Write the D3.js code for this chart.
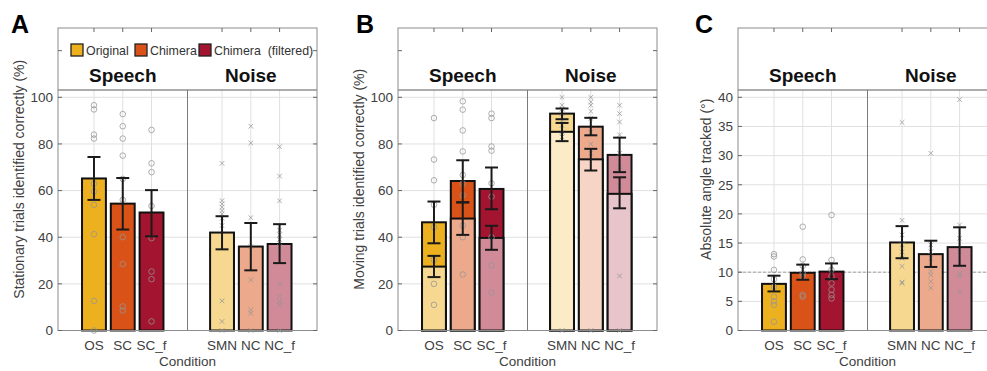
<!DOCTYPE html>
<html>
<head>
<meta charset="utf-8">
<script src="https://cdn.jsdelivr.net/npm/d3@7"></script>
<style>
  body { margin: 0; background: #fff; }
  svg { display: block; font-family: "Liberation Sans", Arial, sans-serif; }
</style>
</head>
<body>
<div id="chart"></div>
<script>
// conditions and groups
var conditions = ["OS", "SC", "SC_f", "SMN", "NC", "NC_f"];
var groups = ["Speech", "Noise"];
var legendLabels = ["Original", "Chimera", "Chimera  (filtered)"];
var panelLetters = ["A", "B", "C"];
var yLabels = ["Stationary trials identified correctly (%)",
               "Moving trials identified correctly (%)",
               "Absolute angle tracked (\u00b0)"];

// A: stationary
var statMean = [65.2, 54.4, 50.6, 42.0, 36.0, 37.1];
var statLo   = [56.0, 43.3, 40.4, 34.8, 25.8, 28.9];
var statHi   = [74.4, 65.4, 60.2, 49.0, 46.1, 45.6];
var statPts = [
    [96.6, 94.8, 84.0, 82.3, 63.0, 59.6, 53.9, 41.3, 12.7, 0],
    [92.8, 87.6, 82.3, 75.0, 65.0, 56.0, 40.0, 28.5, 10.3, 8.6],
    [86.0, 71.7, 67.9, 53.4, 39.6, 25.3, 22.0, 3.9],
    [71.7, 55.7, 54.3, 52.9, 51.4, 50.0, 48.1, 45.0, 12.7, 3.9, 0],
    [87.6, 80.4, 48.4, 36.0, 21.7, 8.9, 7.4, 0],
    [78.8, 66.2, 55.6, 43.0, 41.0, 39.0, 36.0, 20.0, 14.6, 12.4, 11.0, 0]
];

// B: moving (outer = all, inner = lower portion)
var moveMean = [46.4, 64.1, 60.7, 93.0, 87.4, 75.3];
var moveLo   = [37.4, 54.9, 52.0, 90.6, 83.7, 67.9];
var moveHi   = [55.3, 73.0, 69.9, 95.2, 91.2, 82.7];
var moveInMean = [27.4, 48.0, 39.7, 85.2, 73.4, 58.6];
var moveInLo   = [22.9, 41.0, 34.6, 81.2, 68.6, 52.4];
var moveInHi   = [32.0, 55.0, 44.9, 89.0, 77.9, 65.7];
var movePts = [
    [91.1, 73.3, 64.4, 53.9, 44.3, 30.3, 20.0, 11.0],
    [98.3, 94.7, 85.8, 76.8, 66.7, 63.0, 58.0, 45.0, 40.0, 24.0],
    [93.0, 91.1, 78.9, 77.1, 63.1, 57.4, 40.0, 28.0, 16.3],
    [100, 96.6, 95.0, 93.0, 90.0, 88.0, 85.0, 83.0, 0],
    [100, 98.0, 96.6, 94.0, 91.0, 85.0, 80.0, 76.0, 0],
    [96.6, 93.0, 89.4, 83.9, 76.0, 70.0, 62.0, 23.4, 0]
];

// C: absolute angle
var angMean = [8.0, 9.9, 10.1, 15.1, 13.1, 14.3];
var angLo   = [6.7, 8.7, 8.8, 12.4, 10.9, 11.1];
var angHi   = [9.4, 11.3, 11.5, 17.9, 15.4, 17.7];
var angPts = [
    [13.1, 12.7, 10.4, 8.8, 7.5, 5.8, 5.0, 4.4, 1.5],
    [17.8, 12.2, 11.1, 9.8, 9.3, 6.1, 5.8],
    [19.8, 12.1, 10.4, 9.3, 8.1, 7.0, 6.1, 5.5],
    [35.7, 18.9, 16.4, 14.7, 13.5, 12.4, 11.0, 8.3, 8.1],
    [30.4, 14.7, 13.5, 12.4, 10.1, 9.5, 8.4, 7.3],
    [39.6, 18.1, 15.8, 13.5, 11.5, 9.8, 9.3, 6.7]
];

var pctTicks = [0, 20, 40, 60, 80, 100];
var angTicks = [0, 5, 10, 15, 20, 25, 30, 35, 40];

// colours
var baseColors  = ["#EDB120", "#D95319", "#A2142F"];
function tint(c, k) { return d3.interpolateRgb("#ffffff", c)(k); }

var W = 987, H = 371;
var svg = d3.select("#chart").append("svg").attr("width", W).attr("height", H);

var xPos = [1.25, 2.25, 3.25, 5.7, 6.7, 7.7], xDivider = 4.5, barW = 0.83;
var axTop = 28, headerY = 90, axBottom = 330.5, y100 = 97.3, panelW = 259;

function drawPanel(p) {
    var g = svg.append("g");
    var x = d3.scaleLinear().domain([0, 9]).range([p.left, p.left + panelW]);
    var y = d3.scaleLinear().domain([0, p.ticks[p.ticks.length - 1]]).range([axBottom, y100]);
    var right = p.left + panelW;

    // grid
    g.selectAll(".hg").data(p.ticks).enter().append("line")
        .attr("x1", p.left).attr("x2", right)
        .attr("y1", function (d) { return y(d); }).attr("y2", function (d) { return y(d); })
        .attr("stroke", "#e0e0e0").attr("stroke-width", 1);
    g.selectAll(".vg").data(xPos).enter().append("line")
        .attr("x1", function (d) { return x(d); }).attr("x2", function (d) { return x(d); })
        .attr("y1", headerY).attr("y2", axBottom)
        .attr("stroke", "#e0e0e0").attr("stroke-width", 1);

    if (p.refLine !== undefined) {
        g.append("line").attr("x1", p.left).attr("x2", right)
            .attr("y1", y(p.refLine)).attr("y2", y(p.refLine))
            .attr("stroke", "#9a9a9a").attr("stroke-width", 0.9).attr("stroke-dasharray", "3,2");
    }

    // bars
    p.bars.forEach(function (b) {
        g.selectAll(null).data(b.values).enter().append("rect")
            .attr("x", function (d, i) { return x(xPos[i] - barW / 2); })
            .attr("width", x(barW) - x(0))
            .attr("y", function (d) { return y(d); })
            .attr("height", function (d) { return y(0) - y(d); })
            .attr("fill", function (d, i) { return b.colors[i]; })
            .attr("stroke", "#111").attr("stroke-width", 2);
    });

    // individual points
    p.points.forEach(function (pts, i) {
        var cx = x(xPos[i]);
        pts.forEach(function (v) {
            var cy = y(v);
            if (i < 3) {
                g.append("circle").attr("cx", cx).attr("cy", cy).attr("r", 2.8)
                    .attr("fill", "none").attr("stroke", "#959595").attr("stroke-width", 0.9).attr("opacity", 0.85);
            } else {
                var s = 2.3;
                g.append("path")
                    .attr("d", "M" + (cx - s) + "," + (cy - s) + "L" + (cx + s) + "," + (cy + s) +
                               "M" + (cx - s) + "," + (cy + s) + "L" + (cx + s) + "," + (cy - s))
                    .attr("stroke", "#959595").attr("stroke-width", 0.9).attr("opacity", 0.85);
            }
        });
    });

    // error bars
    p.errors.forEach(function (e) {
        e.lo.forEach(function (lo, i) {
            var cx = x(xPos[i]), hi = e.hi[i], cap = 6.5;
            var eg = g.append("g").attr("stroke", "#1a1a1a").attr("stroke-width", 2);
            eg.append("line").attr("x1", cx).attr("x2", cx).attr("y1", y(lo)).attr("y2", y(hi));
            eg.append("line").attr("x1", cx - cap).attr("x2", cx + cap).attr("y1", y(lo)).attr("y2", y(lo));
            eg.append("line").attr("x1", cx - cap).attr("x2", cx + cap).attr("y1", y(hi)).attr("y2", y(hi));
        });
    });

    // header region
    g.append("rect").attr("x", p.left).attr("y", axTop).attr("width", panelW).attr("height", headerY - axTop)
        .attr("fill", "#fff");
    g.append("line").attr("x1", p.left).attr("x2", right).attr("y1", headerY).attr("y2", headerY)
        .attr("stroke", "#5a5a5a").attr("stroke-width", 1);
    g.append("line").attr("x1", x(xDivider)).attr("x2", x(xDivider)).attr("y1", headerY).attr("y2", axBottom)
        .attr("stroke", "#7a7a7a").attr("stroke-width", 1);

    // box
    g.append("rect").attr("x", p.left).attr("y", axTop).attr("width", panelW).attr("height", axBottom - axTop)
        .attr("fill", "none").attr("stroke", "#8c8c8c").attr("stroke-width", 1);

    // inward ticks
    var tickVals = p.ticks.concat(p.extraTicks || []);
    tickVals.forEach(function (t) {
        g.append("line").attr("x1", p.left).attr("x2", p.left + 4).attr("y1", y(t)).attr("y2", y(t))
            .attr("stroke", "#666");
        g.append("line").attr("x1", right - 4).attr("x2", right).attr("y1", y(t)).attr("y2", y(t))
            .attr("stroke", "#666");
    });
    xPos.forEach(function (d) {
        g.append("line").attr("x1", x(d)).attr("x2", x(d)).attr("y1", axTop).attr("y2", axTop + 4)
            .attr("stroke", "#666");
    });

    // tick labels
    g.selectAll(".yl").data(p.ticks).enter().append("text")
        .attr("x", p.left - 5).attr("y", function (d) { return y(d) + 4.8; })
        .attr("text-anchor", "end").attr("font-size", 13.5).attr("fill", "#404040")
        .text(function (d) { return d; });
    g.selectAll(".xl").data(conditions).enter().append("text")
        .attr("x", function (d, i) { return x(xPos[i]); }).attr("y", 349.5)
        .attr("text-anchor", "middle").attr("font-size", 13.5).attr("fill", "#404040")
        .text(function (d) { return d; });
    g.append("text").attr("x", (p.left + right) / 2).attr("y", 365.5)
        .attr("text-anchor", "middle").attr("font-size", 13.5).attr("fill", "#404040").text("Condition");
    g.append("text")
        .attr("transform", "translate(" + (p.left - p.ylabOff) + "," + ((axTop + axBottom) / 2) + ") rotate(-90)")
        .attr("text-anchor", "middle").attr("font-size", 14).attr("fill", "#404040").text(p.ylabel);

    // group headers
    groups.forEach(function (name, k) {
        g.append("text").attr("x", x(xPos[k * 3 + 1])).attr("y", 82)
            .attr("text-anchor", "middle").attr("font-size", 19).attr("font-weight", "bold")
            .attr("fill", "#111").text(name);
    });

    // panel letter
    g.append("text").attr("x", p.left - p.letterOff).attr("y", 33)
        .attr("font-size", 25).attr("font-weight", "bold").attr("fill", "#000").text(p.letter);

    return { x: x, y: y };
}

var solidCols = baseColors.concat(baseColors.map(function (c) { return tint(c, 0.5); }));
var lightCols = baseColors.map(function (c) { return tint(c, 0.5); })
    .concat(baseColors.map(function (c) { return tint(c, 0.25); }));

drawPanel({
    left: 58, ticks: pctTicks, extraTicks: [120], letter: panelLetters[0], letterOff: 47,
    ylabel: yLabels[0], ylabOff: 34,
    bars: [{ values: statMean, colors: solidCols }],
    points: statPts,
    errors: [{ lo: statLo, hi: statHi }]
});

drawPanel({
    left: 398, ticks: pctTicks, extraTicks: [120], letter: panelLetters[1], letterOff: 42,
    ylabel: yLabels[1], ylabOff: 34,
    bars: [{ values: moveMean, colors: solidCols }, { values: moveInMean, colors: lightCols }],
    points: movePts,
    errors: [{ lo: moveLo, hi: moveHi }, { lo: moveInLo, hi: moveInHi }]
});

drawPanel({
    left: 738, ticks: angTicks, letter: panelLetters[2], letterOff: 43,
    ylabel: yLabels[2], ylabOff: 27, refLine: 10,
    bars: [{ values: angMean, colors: solidCols }],
    points: angPts,
    errors: [{ lo: angLo, hi: angHi }]
});

// legend (panel A)
var legX = [71, 135, 199];
var leg = svg.append("g");
legendLabels.forEach(function (name, i) {
    leg.append("rect").attr("x", legX[i]).attr("y", 44).attr("width", 12).attr("height", 12)
        .attr("fill", baseColors[i]).attr("stroke", "#222").attr("stroke-width", 1.3);
    leg.append("text").attr("x", legX[i] + 15).attr("y", 54.5).attr("font-size", 12.4)
        .attr("fill", "#333").style("white-space", "pre").text(name);
});
</script>
</body>
</html>
